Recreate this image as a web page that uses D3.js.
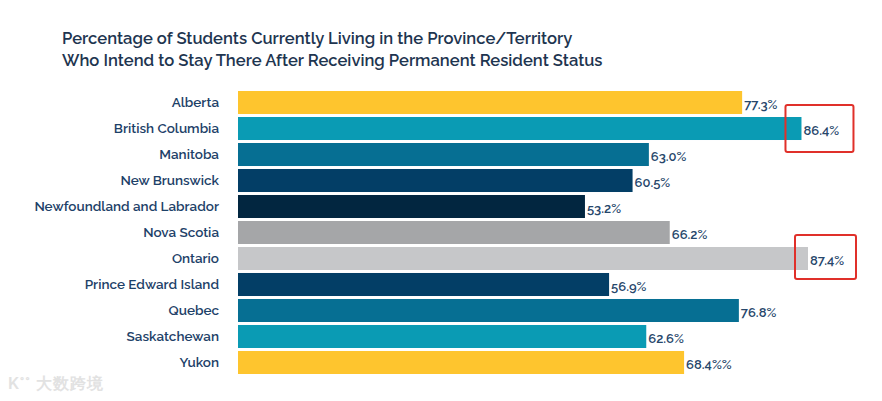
<!DOCTYPE html>
<html>
<head>
<meta charset="utf-8">
<script src="https://cdn.jsdelivr.net/npm/d3@7"></script>
<style>
  body { margin: 0; background: #fff; }
  svg { display: block; font-family: Raleway, "Open Sans", Lato, sans-serif; }
</style>
</head>
<body>
<svg width="882" height="401"></svg>
<script>
var provinces = ['Alberta', 'British Columbia', 'Manitoba', 'New Brunswick', 'Newfoundland and Labrador',
	'Nova Scotia', 'Ontario', 'Prince Edward Island', 'Quebec', 'Saskatchewan', 'Yukon'],
	values = [77.3, 86.4, 63.0, 60.5, 53.2, 66.2, 87.4, 56.9, 76.8, 62.6, 68.4],
	valueLabels = ['77.3%', '86.4%', '63.0%', '60.5%', '53.2%', '66.2%', '87.4%', '56.9%', '76.8%', '62.6%', '68.4%%'],
	barColors = ['#fec52e', '#0a9bb4', '#066f93', '#033e66', '#022640', '#a5a6a8', '#c6c7c9', '#033e66', '#066f93', '#0a9bb4', '#fec52e'],
	highlighted = ['British Columbia', 'Ontario'],
	svg = d3.select('svg');

var x = d3.scaleLinear().domain([0, 87.4]).range([238, 808]);
var y = d3.scaleBand().domain(provinces).range([89.7, 375.3]).paddingInner(0.115).paddingOuter(0.05);

// title
svg.append('text')
	.attr('x', 62).attr('y', 44)
	.attr('fill', '#1e3550').attr('font-size', 16.6).attr('font-weight', 600)
	.text('Percentage of Students Currently Living in the Province/Territory');
svg.append('text')
	.attr('x', 62).attr('y', 66)
	.attr('fill', '#1e3550').attr('font-size', 16.6).attr('font-weight', 600)
	.text('Who Intend to Stay There After Receiving Permanent Resident Status');

svg.selectAll('rect.bar')
	.data(provinces)
	.enter().append('rect')
	.attr('class', 'bar')
	.attr('x', x(0))
	.attr('y', function(d){ return y(d); })
	.attr('width', function(d, i){ return x(values[i]) - x(0); })
	.attr('height', y.bandwidth())
	.attr('fill', function(d, i){ return barColors[i]; });

// category labels
svg.selectAll('text.cat')
	.data(provinces)
	.enter().append('text')
	.attr('class', 'cat')
	.attr('x', 219)
	.attr('y', function(d){ return y(d) + y.bandwidth() / 2; })
	.attr('dy', '0.35em')
	.attr('text-anchor', 'end')
	.attr('fill', '#1d4168').attr('font-size', 13.5).attr('font-weight', 600)
	.text(function(d){ return d; });

// value labels
svg.selectAll('text.val')
	.data(provinces)
	.enter().append('text')
	.attr('class', 'val')
	.attr('x', function(d, i){ return x(values[i]) + 2; })
	.attr('y', function(d){ return y(d) + y.bandwidth() / 2 + 2; })
	.attr('dy', '0.35em')
	.attr('fill', '#27476b').attr('font-size', 13).attr('font-weight', 600)
	.text(function(d, i){ return valueLabels[i]; });

// red annotation boxes
highlighted.forEach(function(p){
	var i = provinces.indexOf(p),
		ont = p === 'Ontario';
	svg.append('rect')
		.attr('x', x(values[i]) - (ont ? 13 : 16))
		.attr('y', y(p) - 12)
		.attr('width', ont ? 61 : 68)
		.attr('height', ont ? 44 : 47)
		.attr('rx', 2)
		.attr('fill', 'none')
		.attr('stroke', '#e0302a')
		.attr('stroke-width', 2);
});

// watermark
svg.append('text')
	.attr('x', 8).attr('y', 389)
	.attr('fill', '#e2e2e2').attr('font-size', 16).attr('font-weight', 700)
	.attr('letter-spacing', 1)
	.text('K°° 大数跨境');
</script>
</body>
</html>
